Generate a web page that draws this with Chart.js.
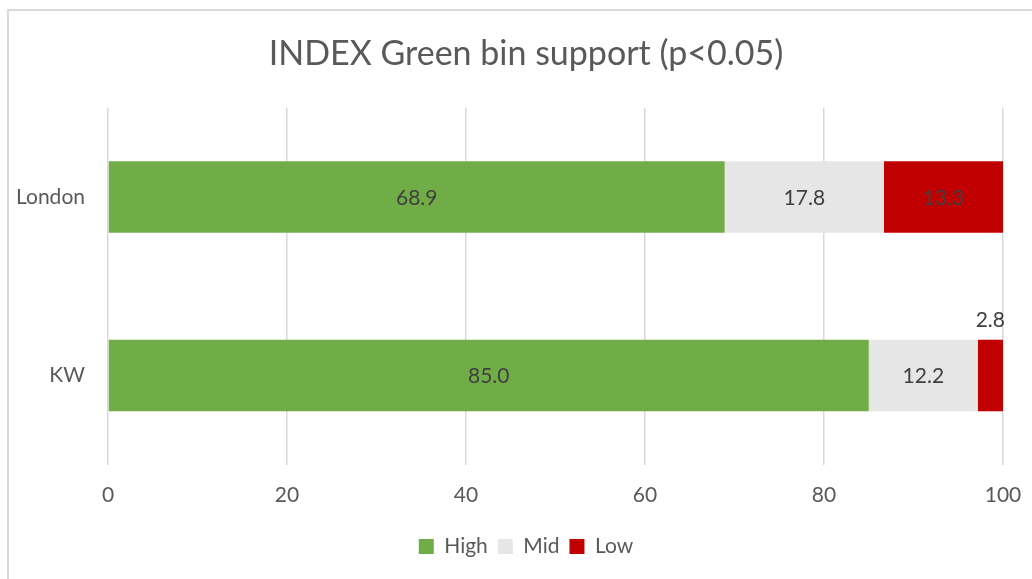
<!DOCTYPE html>
<html>
<head>
<meta charset="utf-8">
<script src="https://cdn.jsdelivr.net/npm/chart.js@4/dist/chart.umd.min.js"></script>
<style>
  html, body { margin: 0; padding: 0; background: #fff; overflow: hidden; }
  #frame { position: absolute; left: 7px; top: 9px; width: 1100px; height: 650px;
           border: 2px solid #d9d9d9; box-sizing: border-box; }
  #chart { position: absolute; left: 0; top: 0; }
</style>
</head>
<body>
<div id="frame"></div>
<canvas id="chart" width="1052" height="579"></canvas>
<script>
const regions = ["London", "KW"];
const highVals = [68.9, 85.0];
const midVals = [17.8, 12.2];
const lowVals = [13.3, 2.8];
const xTicks = [0, 20, 40, 60, 80, 100];

const FONT = "Lato, 'Open Sans', sans-serif";

// value labels: inside each segment, above the bar when the segment is too narrow
const barLabels = {
  id: "barLabels",
  afterDatasetsDraw(chart) {
    const ctx = chart.ctx;
    ctx.save();
    ctx.font = "21px " + FONT;
    ctx.fillStyle = "#404040";
    ctx.textBaseline = "middle";
    chart.data.datasets.forEach((ds, di) => {
      chart.getDatasetMeta(di).data.forEach((bar, i) => {
        const v = ds.data[i];
        const w = Math.abs(bar.x - bar.base);
        const txt = v.toFixed(1);
        if (w > 40) {
          ctx.textAlign = "center";
          ctx.fillText(txt, (bar.x + bar.base) / 2, bar.y + 1);
        } else {
          ctx.textAlign = "right";
          ctx.fillText(txt, bar.x + 2, bar.y - bar.height / 2 - 20);
        }
      });
    });
    ctx.restore();
  }
};

new Chart(document.getElementById("chart"), {
  type: "bar",
  data: {
    labels: regions,
    datasets: [
      { label: "High", data: highVals, backgroundColor: "#70ad47" },
      { label: "Mid", data: midVals, backgroundColor: "#e6e6e6" },
      { label: "Low", data: lowVals, backgroundColor: "#c00000" },
    ],
  },
  options: {
    indexAxis: "y",
    responsive: false,
    animation: false,
    layout: { padding: { left: 10, right: 10, top: 22, bottom: 12 } },
    datasets: { bar: { categoryPercentage: 1, barPercentage: 0.4 } },
    scales: {
      x: {
        stacked: true, min: 0, max: 100,
        afterBuildTicks: s => { s.ticks = xTicks.map(v => ({ value: v })); },
        afterFit: s => { s.paddingRight = 49; },
        grid: { color: "#d9d9d9", lineWidth: 1.5, drawTicks: false },
        border: { display: false },
        ticks: { color: "#595959", font: { family: FONT, size: 21 }, padding: 18 },
      },
      y: {
        stacked: true,
        afterFit: s => { s.width = 98; },
        grid: { display: false },
        border: { display: false },
        ticks: { color: "#595959", font: { family: FONT, size: 21 }, padding: 15 },
      },
    },
    plugins: {
      title: {
        display: true, text: "INDEX Green bin support (p<0.05)",
        color: "#595959", font: { family: FONT, size: 34, weight: "normal" },
        padding: { top: 12, bottom: 33 },
      },
      legend: {
        position: "bottom",
        labels: { color: "#595959", font: { family: FONT, size: 21 },
                  boxWidth: 15, boxHeight: 15, padding: 10 },
      },
      tooltip: { enabled: false },
    },
  },
  plugins: [barLabels],
});
</script>
</body>
</html>
